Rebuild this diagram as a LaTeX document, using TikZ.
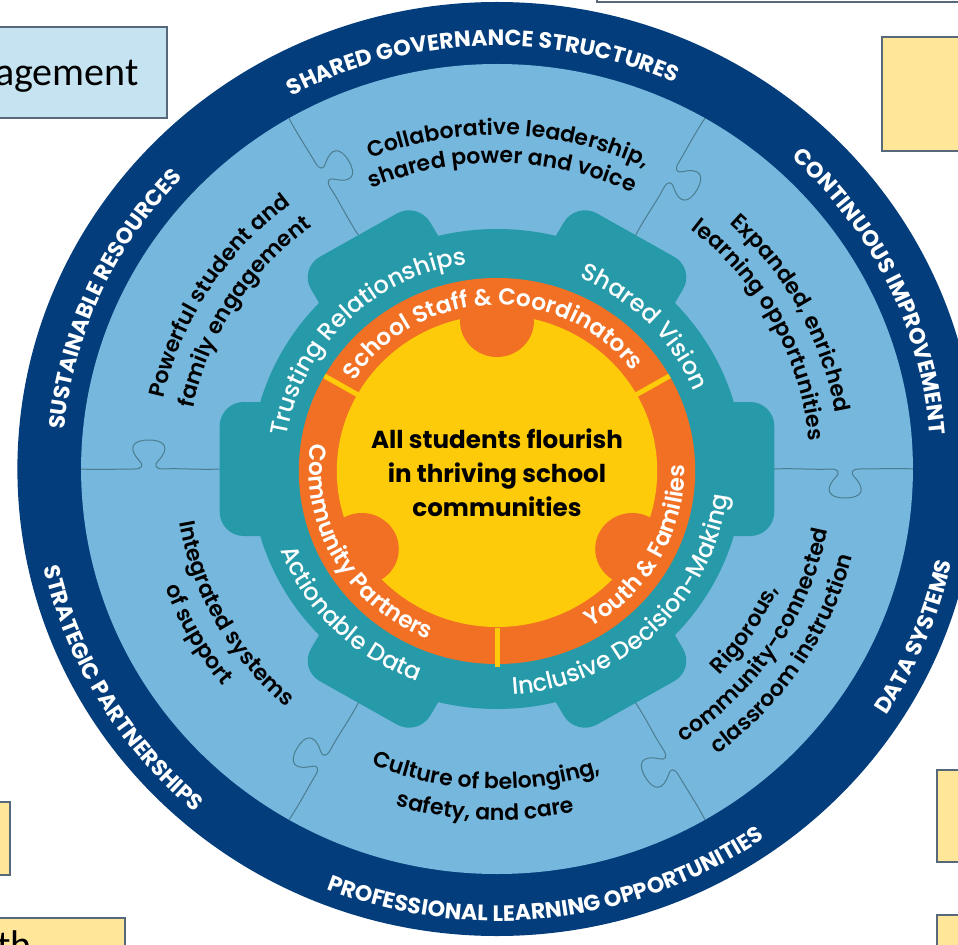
\documentclass[tikz,border=0pt]{standalone}
\usepackage{fontspec}
\setmainfont{Poppins}
\newfontfamily\popm{Poppins Medium}
\newfontfamily\popsb{Poppins SemiBold}
\newfontfamily\popb{Poppins Bold}
\newfontfamily\calfont{Carlito}
\usetikzlibrary{decorations.text}
\definecolor{navy}{HTML}{033D7C}
\definecolor{lblue}{HTML}{76B7DD}
\definecolor{gearteal}{HTML}{269AA8}
\definecolor{ringorange}{HTML}{F27024}
\definecolor{sunyellow}{HTML}{FECB0A}
\definecolor{seamcol}{HTML}{4B7D8E}
\definecolor{boxblue}{HTML}{C5E3F1}
\definecolor{boxyellow}{HTML}{FFE699}
\definecolor{boxline}{HTML}{56687A}
\newcommand\cwtext[5]{% center angle, radius, font, color, text
  \path[decorate,decoration={text along path,text align=center,text color=#4,text={|#3|#5}}]
    ({#1+75}:#2) arc[start angle={#1+75}, end angle={#1-75}, radius=#2];}
\newcommand\ccwtext[5]{%
  \path[decorate,decoration={text along path,text align=center,text color=#4,text={|#3|#5}}]
    ({#1-75}:#2) arc[start angle={#1-75}, end angle={#1+75}, radius=#2];}
\newcommand\puzzleseam[1]{%
  \begin{scope}[rotate=#1]
  \draw[seamline] (270,0) .. controls (290,1) and (310,-1) .. (325,0)
    .. controls (333,0) and (334,-4) .. (330,-8)
    .. controls (318,-21) and (323,-29) .. (339,-29)
    .. controls (355,-29) and (360,-21) .. (348,-8)
    .. controls (344,-4) and (345,0) .. (353,0)
    .. controls (370,0) and (390,1) .. (405,0);
  \end{scope}}
\tikzset{
  seamline/.style={draw=seamcol, line width=0.5pt},
  bgbox/.style={draw=boxline, line width=0.9pt},
}
\newcommand\capsf{\popb\fontsize{11.1}{13}\selectfont}
\newcommand\blackf{\popsb\fontsize{11}{13}\selectfont}
\newcommand\tealf{\popm\fontsize{12}{14}\selectfont}
\newcommand\orangef{\popsb\fontsize{11.6}{14}\selectfont}
\begin{document}
\begin{tikzpicture}[x=0.5pt,y=0.5pt]
\path[use as bounding box] (0,0) rectangle (958,944);
\clip (0,0) rectangle (958,944);
% background slide boxes
\draw[bgbox, fill=boxblue] (-10,826) rectangle (167,917);
\node[anchor=base east, inner sep=0pt, font=\calfont\fontsize{20}{24}\selectfont] (eng) at (139,858) {agement};
\draw[bgbox, fill=white] (597,942) rectangle (975,990);
\draw[bgbox, fill=boxyellow] (882,793) rectangle (975,907);
\draw[bgbox, fill=boxyellow] (937,82) rectangle (975,174);
\draw[bgbox, fill=boxyellow] (937,-46) rectangle (975,29);
\draw[bgbox, fill=boxyellow] (-10,69) rectangle (10,142);
\draw[bgbox, fill=boxyellow] (-10,-46) rectangle (125,26);
\node[anchor=base west, inner sep=0pt, font=\calfont\fontsize{20}{24}\selectfont] (th) at (-3,-14) {th};
% wheel
\begin{scope}[shift={(497,475)}, xscale=1.027]
  \fill[navy] (0,0) circle (467);
  \fill[lblue] (0,0) circle (405);
  \foreach \a in {0,60,...,300} {\puzzleseam{\a}}
  \fill[gearteal] (0,0) circle (240);
  \foreach \a in {0,60,...,300}
    \fill[gearteal, rotate=\a, rounded corners=12] (200,-67) rectangle (270,67);
  \fill[ringorange] (0,-2) circle (193);
  \fill[sunyellow] (0,-2) circle (156);
  \foreach \a in {90,210,330}
    \fill[ringorange] ([yshift=-2]\a:152) circle (36);
  \foreach \a in {30,150,270}
    \draw[sunyellow, line width=2.5pt] ([yshift=-2]\a:155) -- ([yshift=-2]\a:194);
  % outer ring labels
  \cwtext{92}{423}{\capsf}{white}{SHARED GOVERNANCE STRUCTURES}
  \cwtext{25.5}{423}{\capsf}{white}{CONTINUOUS IMPROVEMENT}
  \cwtext{156}{423}{\capsf}{white}{SUSTAINABLE RESOURCES}
  \ccwtext{-22}{452}{\capsf}{white}{DATA SYSTEMS}
  \ccwtext{-83}{452}{\capsf}{white}{PROFESSIONAL LEARNING OPPORTUNITIES}
  \ccwtext{210.5}{452}{\capsf}{white}{STRATEGIC PARTNERSHIPS}
  % puzzle piece texts
  \cwtext{88}{334}{\blackf}{black}{Collaborative leadership,}
  \cwtext{89}{306}{\blackf}{black}{shared power and voice}
  \cwtext{28}{334}{\blackf}{black}{Expanded, enriched}
  \cwtext{28}{305}{\blackf}{black}{learning opportunities}
  \cwtext{148}{332}{\blackf}{black}{Powerful student and}
  \cwtext{148}{302}{\blackf}{black}{family engagement}
  \ccwtext{-92}{320}{\blackf}{black}{Culture of belonging,}
  \ccwtext{-92}{351}{\blackf}{black}{safety, and care}
  \ccwtext{209}{314}{\blackf}{black}{Integrated systems}
  \ccwtext{209}{344}{\blackf}{black}{of support}
  \ccwtext{-33}{299}{\blackf}{black}{Rigorous,}
  \ccwtext{-33}{328}{\blackf}{black}{community-connected}
  \ccwtext{-33}{357}{\blackf}{black}{classroom instruction}
  % gear texts
  \cwtext{135}{207}{\tealf}{white}{Trusting Relationships}
  \cwtext{44}{207}{\tealf}{white}{Shared Vision}
  \ccwtext{-46}{226}{\tealf}{white}{Inclusive Decision-Making}
  \ccwtext{225}{226}{\tealf}{white}{Actionable Data}
  % orange ring texts
  \cwtext{92}{164}{\orangef}{white}{School Staff {\&} Coordinators}
  \ccwtext{210}{183}{\orangef}{white}{Community Partners}
  \ccwtext{-29}{183}{\orangef}{white}{Youth {\&} Families}
  \node[align=center, font=\popb\fontsize{12.3}{17}\selectfont, text=black] (core) at (0,-4)
    {All students flourish\\in thriving school\\communities};
\end{scope}
\end{tikzpicture}
\end{document}
